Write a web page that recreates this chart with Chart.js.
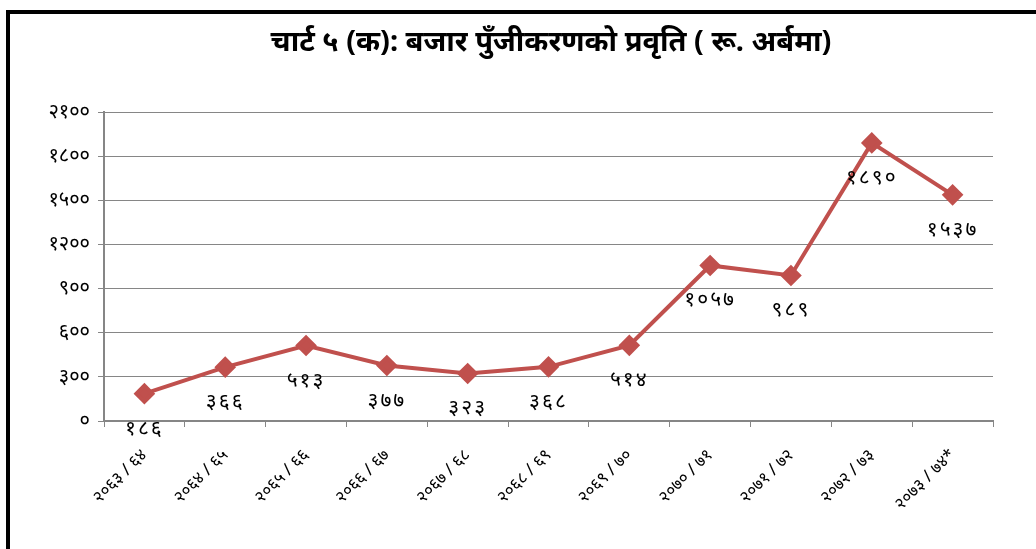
<!DOCTYPE html>
<html>
<head>
<meta charset="utf-8">
<script src="https://cdn.jsdelivr.net/npm/chart.js@4"></script>
<style>
  body { margin: 0; background: #fff; }
</style>
</head>
<body>
<canvas id="myChart" width="1036" height="549"></canvas>
<script>
// Chart data
const chartTitle = "चार्ट ५ (क): बजार पुँजीकरणको प्रवृति ( रू. अर्बमा)";
const years = ["२०६३ / ६४", "२०६४ / ६५", "२०६५ / ६६", "२०६६ / ६७", "२०६७ / ६८", "२०६८ / ६९",
  "२०६९ / ७०", "२०७० / ७१", "२०७१ / ७२", "२०७२ / ७३", "२०७३ / ७४*"];
const marketCap = [186, 366, 513, 377, 323, 368, 514, 1057, 989, 1890, 1537];
const yTicks = [0, 300, 600, 900, 1200, 1500, 1800, 2100];

const devDigits = ["०", "१", "२", "३", "४", "५", "६", "७", "८", "९"];
toDev = (n) => String(n).replace(/[0-9]/g, (d) => devDigits[+d]);

const FONT = "'Noto Sans', 'DejaVu Sans', sans-serif";

// frame (top and left sides only, like the scan) + title
const framePlugin = {
  id: "frame",
  beforeDraw(chart) {
    const c = chart.ctx;
    c.save();
    c.fillStyle = "#fff";
    c.fillRect(0, 0, chart.width, chart.height);
    c.strokeStyle = "#000";
    c.lineWidth = 4;
    c.beginPath();
    c.moveTo(8, 549);
    c.lineTo(8, 12);
    c.lineTo(1036, 12);
    c.stroke();

    c.font = "bold 29px " + FONT;
    c.fillStyle = "#000";
    c.textAlign = "center";
    c.textBaseline = "middle";
    c.fillText(chartTitle, 551, 43);
    c.restore();
  }
};

// value labels under each marker
const labelPlugin = {
  id: "pointLabels",
  afterDatasetsDraw(chart) {
    const c = chart.ctx;
    const meta = chart.getDatasetMeta(0);
    c.save();
    c.font = "21px " + FONT;
    c.letterSpacing = "2px";
    c.fillStyle = "#000";
    c.textAlign = "center";
    c.textBaseline = "middle";
    meta.data.forEach((pt, i) => {
      c.fillText(toDev(marketCap[i]), pt.x, pt.y + 35);
    });
    c.restore();
  }
};

const ctx = document.getElementById("myChart").getContext("2d");
const myChart = new Chart(ctx, {
  type: "line",
  data: {
    labels: years,
    datasets: [{
      data: marketCap,
      borderColor: "#C0504D",
      backgroundColor: "#C0504D",
      borderWidth: 4,
      pointStyle: "rectRot",
      pointRadius: 8,
      pointHoverRadius: 8,
      tension: 0
    }]
  },
  options: {
    responsive: false,
    animation: false,
    layout: { padding: { left: 10, right: 43, top: 112, bottom: 0 } },
    plugins: {
      legend: { display: false },
      tooltip: { enabled: false },
      title: { display: false }
    },
    scales: {
      x: {
        offset: true,
        grid: { offset: true, drawOnChartArea: false, color: "#868686", tickLength: 6 },
        border: { color: "#868686", width: 2 },
        ticks: {
          color: "#000",
          font: { family: FONT, size: 17 },
          minRotation: 45,
          maxRotation: 45,
          padding: 18
        },
        afterFit: (scale) => { scale.height = 128; }
      },
      y: {
        min: 0,
        max: 2100,
        afterBuildTicks: (scale) => { scale.ticks = yTicks.map((v) => ({ value: v })); },
        grid: { color: "#868686", tickLength: 6 },
        border: { color: "#868686", width: 2 },
        ticks: {
          color: "#000",
          font: { family: FONT, size: 20 },
          padding: 8,
          callback: (v) => toDev(v)
        },
        afterFit: (scale) => { scale.width = 94; }
      }
    }
  },
  plugins: [framePlugin, labelPlugin]
});
</script>
</body>
</html>
